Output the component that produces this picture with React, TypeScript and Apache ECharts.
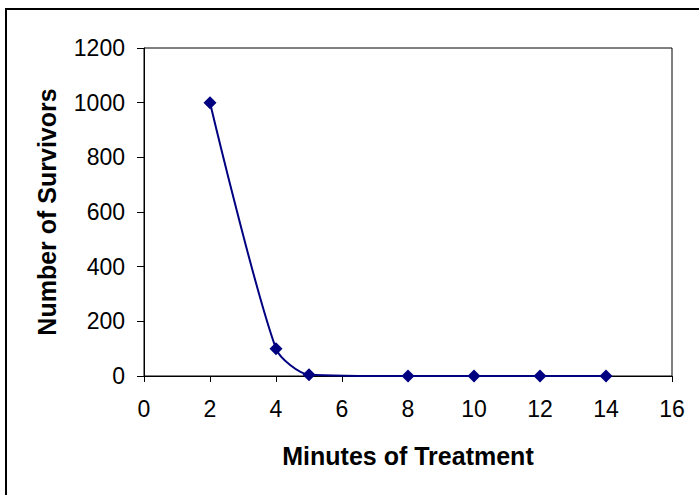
import React, { useEffect, useRef } from "react";
import * as echarts from "echarts";

const minutes = [2, 4, 5, 8, 10, 12, 14];
const survivors = [1000, 100, 5, 0, 0, 0, 0];
const xTitle = "Minutes of Treatment";
const yTitle = "Number of Survivors";

export default function App() {
  const ref = useRef<HTMLDivElement>(null);
  useEffect(() => {
    const chart = echarts.init(ref.current!, null, { renderer: "svg" });
    const font = "'Liberation Sans', Arial, sans-serif";
    chart.setOption({
      animation: false,
      backgroundColor: "#fff",
      graphic: [
        {
          type: "rect",
          shape: { x: 6, y: 9, width: 720, height: 520 },
          style: { fill: "none", stroke: "#000", lineWidth: 2 },
          silent: true,
        },
      ],
      grid: {
        left: 144,
        top: 48,
        right: 27,
        bottom: 119,
        show: true,
        borderColor: "#000",
        borderWidth: 1,
        backgroundColor: "transparent",
      },
      xAxis: {
        type: "value",
        min: 0,
        max: 16,
        interval: 2,
        name: xTitle,
        nameLocation: "middle",
        nameGap: 67,
        nameTextStyle: { fontFamily: font, fontSize: 25, fontWeight: "bold", color: "#000" },
        axisLine: { show: true, lineStyle: { color: "#000", width: 1 } },
        axisTick: { show: true, length: 6, lineStyle: { color: "#000" } },
        axisLabel: { fontFamily: font, fontSize: 23, color: "#000", margin: 21, formatter: (v: number) => String(v) },
        splitLine: { show: false },
      },
      yAxis: {
        type: "value",
        min: 0,
        max: 1200,
        interval: 200,
        name: yTitle,
        nameLocation: "middle",
        nameGap: 85,
        nameTextStyle: { fontFamily: font, fontSize: 25, fontWeight: "bold", color: "#000" },
        axisLine: { show: true, lineStyle: { color: "#000", width: 1 } },
        axisTick: { show: true, length: 7, lineStyle: { color: "#000" } },
        axisLabel: { fontFamily: font, fontSize: 23, color: "#000", margin: 19, formatter: (v: number) => String(v) },
        splitLine: { show: false },
      },
      series: [
        {
          type: "line",
          data: minutes.map((m, i) => [m, survivors[i]]),
          smooth: 0.25,
          symbol: "diamond",
          symbolSize: 13,
          lineStyle: { color: "#000080", width: 2 },
          itemStyle: { color: "#000080" },
        },
      ],
    });
    return () => chart.dispose();
  }, []);
  return (
    <div
      ref={ref}
      style={{ position: "fixed", left: 0, top: 0, width: 699, height: 495 }}
    />
  );
}
